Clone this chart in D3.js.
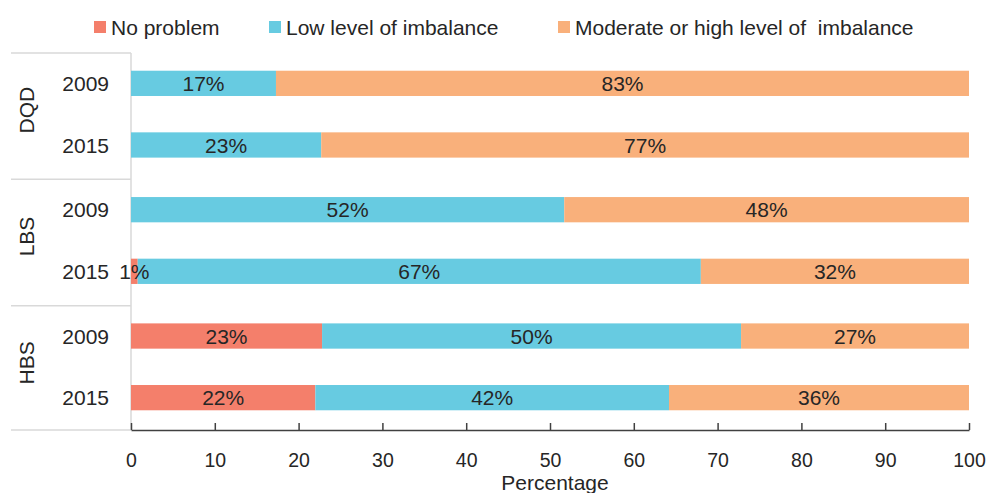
<!DOCTYPE html>
<html>
<head>
<meta charset="utf-8">
<script src="https://cdn.jsdelivr.net/npm/d3@7"></script>
<style>
  body { margin: 0; background: #fff; }
  text { font-family: "Liberation Sans", Arial, sans-serif; fill: #262626; }
</style>
</head>
<body>
<div class="barchart"></div>
<script>
var svgWidth = 987;
var svgHeight = 493;

// data (percent)
var groups = ["DQD", "LBS", "HBS"];
var years = ["2009", "2015"];
var seriesNames = ["No problem", "Low level of imbalance", "Moderate or high level of  imbalance"];
var seriesColors = ["#f47f6b", "#67cbe1", "#f9b07b"];
// rows in order: DQD 2009, DQD 2015, LBS 2009, LBS 2015, HBS 2009, HBS 2015
var noProblem = [0, 0, 0, 0.8, 22.8, 22.0];
var lowLevel = [17.3, 22.7, 51.7, 67.2, 50.0, 42.2];
var moderateHigh = [82.7, 77.3, 48.3, 32.0, 27.2, 35.8];
var xTicks = [0, 10, 20, 30, 40, 50, 60, 70, 80, 90, 100];

var margin = { left: 131, right: 18, top: 51, bottom: 63 };

var rows = [];
groups.forEach(function(g, gi) {
  years.forEach(function(y, yi) {
    var i = gi * years.length + yi;
    rows.push({ group: g, year: y, values: [noProblem[i], lowLevel[i], moderateHigh[i]] });
  });
});

var svg = d3.select(".barchart")
  .append("svg")
  .attr("width", svgWidth)
  .attr("height", svgHeight);

var xScale = d3.scaleLinear()
  .domain([0, 100])
  .range([margin.left, svgWidth - margin.right]);

var groupScale = d3.scaleBand()
  .domain(groups)
  .range([margin.top, svgHeight - margin.bottom]);

var yearScale = d3.scaleBand()
  .domain(years)
  .range([0, groupScale.bandwidth()])
  .paddingInner(0.59)
  .paddingOuter(0.32);

function rowY(d) {
  return groupScale(d.group) + yearScale(d.year);
}

// category area lines
var sepColor = "#d9d9d9";
groups.forEach(function(g) {
  svg.append("line")
    .attr("x1", 11).attr("x2", margin.left)
    .attr("y1", groupScale(g) + 2).attr("y2", groupScale(g) + 2)
    .attr("stroke", sepColor).attr("stroke-width", 1.5);
});
svg.append("line")
  .attr("x1", 11).attr("x2", margin.left)
  .attr("y1", svgHeight - margin.bottom).attr("y2", svgHeight - margin.bottom)
  .attr("stroke", sepColor).attr("stroke-width", 1.5);
svg.append("line")
  .attr("x1", margin.left).attr("x2", margin.left)
  .attr("y1", groupScale(groups[0]) + 2).attr("y2", svgHeight - margin.bottom)
  .attr("stroke", sepColor).attr("stroke-width", 1.5);

// stacked bars
var stacked = rows.map(function(d) {
  var acc = 0;
  return d.values.map(function(v, si) {
    var seg = { row: d, series: si, x0: acc, x1: acc + v, value: v };
    acc += v;
    return seg;
  });
});

var rowGroups = svg.selectAll(".row")
  .data(stacked)
  .enter()
  .append("g")
  .attr("class", "row");

rowGroups.selectAll("rect")
  .data(d => d.filter(s => s.value > 0))
  .enter()
  .append("rect")
  .attr("x", d => xScale(d.x0))
  .attr("width", d => xScale(d.x1) - xScale(d.x0))
  .attr("y", d => rowY(d.row))
  .attr("height", yearScale.bandwidth())
  .attr("fill", d => seriesColors[d.series]);

rowGroups.selectAll("text")
  .data(d => d.filter(s => s.value > 0))
  .enter()
  .append("text")
  .attr("x", d => (xScale(d.x0) + xScale(d.x1)) / 2)
  .attr("y", d => rowY(d.row) + yearScale.bandwidth() / 2)
  .attr("dy", "0.36em")
  .attr("text-anchor", "middle")
  .attr("font-size", 21)
  .text(d => Math.round(d.value) + "%");

// x axis
var bottomAxis = d3.axisBottom(xScale)
  .tickValues(xTicks)
  .tickSizeInner(-7)
  .tickSizeOuter(0)
  .tickPadding(23);

var xAxis = svg.append("g")
  .attr("transform", `translate(0, ${svgHeight - margin.bottom})`)
  .call(bottomAxis);

xAxis.select(".domain").attr("stroke", "#404040").attr("stroke-width", 1.5);
xAxis.selectAll(".tick line").attr("stroke", "#404040").attr("stroke-width", 1.5);
xAxis.selectAll(".tick text")
  .attr("font-size", 19.5)
  .attr("font-family", "Liberation Sans, Arial, sans-serif")
  .attr("fill", "#262626");

svg.append("text")
  .attr("x", 555)
  .attr("y", 490)
  .attr("text-anchor", "middle")
  .attr("font-size", 21)
  .text("Percentage");

// year labels
svg.selectAll(".year-label")
  .data(rows)
  .enter()
  .append("text")
  .attr("class", "year-label")
  .attr("x", 109)
  .attr("y", d => rowY(d) + yearScale.bandwidth() / 2)
  .attr("dy", "0.36em")
  .attr("text-anchor", "end")
  .attr("font-size", 21)
  .text(d => d.year);

// group labels
svg.selectAll(".group-label")
  .data(groups)
  .enter()
  .append("text")
  .attr("class", "group-label")
  .attr("transform", d => `translate(34, ${groupScale(d) + groupScale.bandwidth() / 2 - 4}) rotate(-90)`)
  .attr("text-anchor", "middle")
  .attr("font-size", 21)
  .text(d => d);

// legend
var legendX = [94, 269, 558];
var legend = svg.selectAll(".legend")
  .data(seriesNames)
  .enter()
  .append("g")
  .attr("class", "legend")
  .attr("transform", (d, i) => `translate(${legendX[i]}, 21)`);

legend.append("rect")
  .attr("width", 12)
  .attr("height", 12)
  .attr("fill", (d, i) => seriesColors[i]);

legend.append("text")
  .attr("x", 17)
  .attr("y", 14)
  .attr("font-size", 21)
  .style("white-space", "pre")
  .text(d => d);
</script>
</body>
</html>
